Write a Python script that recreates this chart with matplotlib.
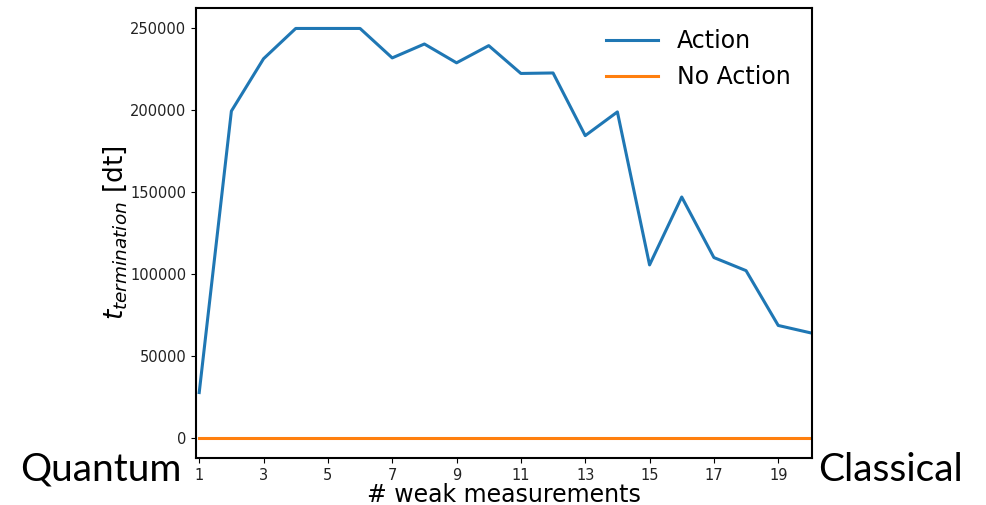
import matplotlib.pyplot as plt

# termination time vs number of weak measurements
n_weak = list(range(1, 21))
t_action = [27500, 199500, 231500, 250000, 250000, 250000, 232000, 240500, 229000, 239500,
            222500, 222800, 184500, 199000, 105500, 147000, 110000, 102000, 68500, 64000]
t_no_action = [0] * 20

fig = plt.figure(figsize=(9.87, 5.05), dpi=100)
ax = fig.add_axes([196 / 987, 47 / 505, (812 - 196) / 987, (458 - 8) / 505])

ax.plot(n_weak, t_action, lw=2.2, color='tab:blue', label='Action')
ax.plot(n_weak, t_no_action, lw=2.2, color='tab:orange', label='No Action')

ax.set_xlim(0.9, 20.05)
ax.set_xticks(range(1, 21, 2))
ax.tick_params(labelsize=10.5, labelcolor='#222222')
for s in ax.spines.values():
    s.set_linewidth(1.5)

ax.set_ylabel(r'$t_{termination}$ [dt]', fontsize=19, labelpad=1)
ax.set_xlabel('# weak measurements', fontsize=17, labelpad=0)
ax.legend(fontsize=17, frameon=False, loc='upper right', handlelength=2.2)

fig.text(20 / 987, 1 - 470 / 505, 'Quantum', fontsize=28, family='Lato', va='center', ha='left')
fig.text(818 / 987, 1 - 470 / 505, 'Classical', fontsize=28, family='Lato', va='center', ha='left')

fig.savefig('out.png', dpi=100)
